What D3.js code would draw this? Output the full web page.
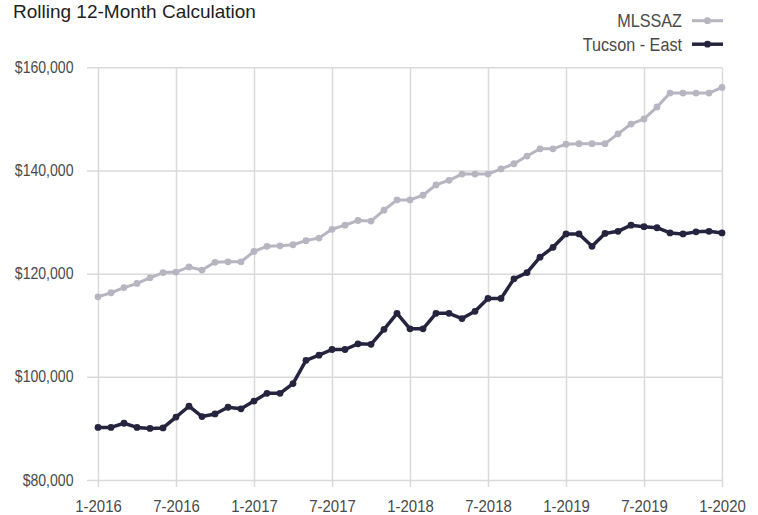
<!DOCTYPE html>
<html>
<head>
<meta charset="utf-8">
<script src="https://cdn.jsdelivr.net/npm/d3@7"></script>
<style>
  body { margin: 0; background: #fff; }
  svg { font-family: "Liberation Sans", Arial, sans-serif; }
</style>
</head>
<body>
<div id="chart"></div>
<script>
let margin = {
    top: 67.3,
    left: 98,
    right: 36,
    bottom: 35
  },
  width = 758,
  height = 515;

// month labels, one per point
let months = [
  '1-2016', '2-2016', '3-2016', '4-2016', '5-2016', '6-2016', '7-2016', '8-2016', '9-2016', '10-2016', '11-2016', '12-2016',
  '1-2017', '2-2017', '3-2017', '4-2017', '5-2017', '6-2017', '7-2017', '8-2017', '9-2017', '10-2017', '11-2017', '12-2017',
  '1-2018', '2-2018', '3-2018', '4-2018', '5-2018', '6-2018', '7-2018', '8-2018', '9-2018', '10-2018', '11-2018', '12-2018',
  '1-2019', '2-2019', '3-2019', '4-2019', '5-2019', '6-2019', '7-2019', '8-2019', '9-2019', '10-2019', '11-2019', '12-2019',
  '1-2020'
];

let mlssaz = [
  115500, 116300, 117300, 118100, 119200, 120200, 120300, 121300, 120700, 122200, 122300, 122300,
  124300, 125300, 125400, 125600, 126400, 126900, 128600, 129400, 130300, 130200, 132300, 134300,
  134300, 135200, 137200, 138100, 139300, 139300, 139300, 140300, 141300, 142800, 144200, 144200,
  145100, 145200, 145200, 145200, 147100, 149000, 150000, 152300, 155000, 155000, 155000, 155000,
  156100
];

let tucsonEast = [
  90200, 90200, 91000, 90200, 90000, 90100, 92200, 94300, 92300, 92800, 94100, 93800,
  95300, 96800, 96800, 98700, 103200, 104200, 105300, 105300, 106400, 106300, 109200, 112300,
  109300, 109300, 112300, 112300, 111300, 112700, 115200, 115200, 119000, 120200, 123200, 125100,
  127700, 127700, 125300, 127800, 128200, 129400, 129100, 128900, 127900, 127700, 128100, 128200,
  127900
];

let xTickLabels = ['1-2016', '7-2016', '1-2017', '7-2017', '1-2018', '7-2018', '1-2019', '7-2019', '1-2020'];
let yTicks = [80000, 100000, 120000, 140000, 160000];

let series = [
  { name: 'MLSSAZ', values: mlssaz, color: '#b6b5c1', width: 3 },
  { name: 'Tucson - East', values: tucsonEast, color: '#25243f', width: 3.5 }
];

let svg = d3.select('#chart')
  .append('svg')
  .attr('width', width)
  .attr('height', height);

// scales
let xScale = d3.scalePoint()
  .domain(months)
  .range([margin.left, width - margin.right]);

let yScale = d3.scaleLinear()
  .domain([80000, 160000])
  .range([height - margin.bottom, margin.top]);

// horizontal grid + y labels
let yAxis = svg.append('g')
  .attr('transform', `translate(${width - margin.right},0)`)
  .call(d3.axisLeft(yScale)
    .tickValues(yTicks)
    .tickSize(width - margin.right - margin.left + 11)
    .tickFormat(d => '$' + d3.format(',')(d)));

yAxis.select('.domain').remove();
yAxis.selectAll('line').attr('stroke', '#dadada').attr('stroke-width', 1.5);
// labels are a condensed face in the original: squeeze them a bit
yAxis.selectAll('text')
  .attr('x', 0)
  .attr('transform', `translate(${73.5 - (width - margin.right)},0) scale(0.88,1)`)
  .attr('fill', '#4a4a4a')
  .style('font-size', '16px');

// vertical grid + x labels
let xAxis = svg.append('g')
  .attr('transform', `translate(0,${margin.top})`)
  .call(d3.axisBottom(xScale)
    .tickValues(xTickLabels)
    .tickSize(height - margin.bottom - margin.top + 7));

xAxis.select('.domain').remove();
xAxis.selectAll('line').attr('stroke', '#dadada').attr('stroke-width', 1.5);
xAxis.selectAll('text')
  .attr('y', 512 - margin.top)
  .attr('dy', 0)
  .attr('transform', 'scale(0.88,1)')
  .attr('fill', '#4a4a4a')
  .style('font-size', '17px');
// scale() moves the anchor too, so put each label back under its tick
xAxis.selectAll('.tick text')
  .attr('x', function() { return 0; });

// lines and markers
let line = d3.line()
  .x((d, i) => xScale(months[i]))
  .y(d => yScale(d));

series.forEach(function(s) {
  svg.append('path')
    .datum(s.values)
    .attr('fill', 'none')
    .attr('stroke', s.color)
    .attr('stroke-width', s.width)
    .attr('stroke-linejoin', 'round')
    .attr('d', line);

  svg.append('g')
    .selectAll('circle')
    .data(s.values)
    .enter()
    .append('circle')
    .attr('cx', (d, i) => xScale(months[i]))
    .attr('cy', d => yScale(d))
    .attr('r', 3.4)
    .attr('fill', s.color);
});

// legend
let legend = svg.append('g');

series.forEach(function(s, i) {
  let y = 20.7 + i * 23.5;
  legend.append('text')
    .attr('transform', `translate(682,${y}) scale(0.9,1)`)
    .attr('dy', '0.35em')
    .attr('text-anchor', 'end')
    .attr('fill', '#4a4a4a')
    .style('font-size', '18px')
    .text(s.name);
  legend.append('line')
    .attr('x1', 692)
    .attr('x2', 723)
    .attr('y1', y)
    .attr('y2', y)
    .attr('stroke', s.color)
    .attr('stroke-width', s.width);
  legend.append('circle')
    .attr('cx', 707.5)
    .attr('cy', y)
    .attr('r', 3.4)
    .attr('fill', s.color);
});

// title
svg.append('text')
  .attr('x', 13)
  .attr('y', 18)
  .attr('fill', '#1e1e1e')
  .style('font-size', '19px')
  .text('Rolling 12-Month Calculation');
</script>
</body>
</html>
